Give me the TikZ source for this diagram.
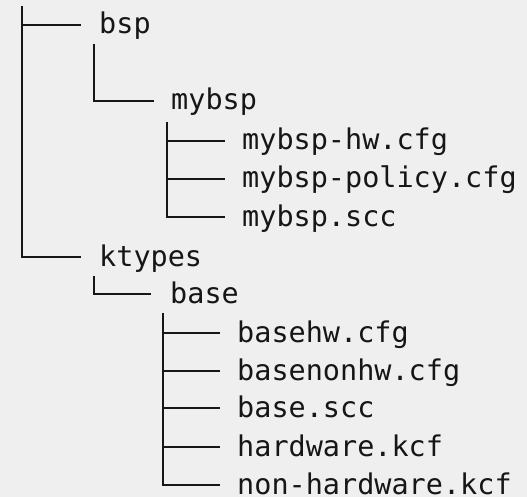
\documentclass[tikz,border=0pt]{standalone}
\usepackage{fontspec}
\newfontfamily\treefont{DejaVu Sans Mono}
\usepackage{tikz}
\usetikzlibrary{positioning}
\usetikzlibrary{calc}
\definecolor{bggray}{HTML}{EFEFEF}
\definecolor{ink}{HTML}{161616}
\tikzstyle{entry} = [anchor=base west, inner sep=0pt, text=ink, font=\treefont\fontsize{28.6}{30}\selectfont]
\tikzstyle{branch} = [draw=ink, line width=2.4bp]

\begin{document}
\begin{tikzpicture}[x=1bp, y=1bp]
    \useasboundingbox[fill=bggray] (0,0) rectangle (527,-497);

    % --- bsp ---

    % bsp entry
    \node[entry] at (99, -34) (bsp) {bsp};
    \coordinate (bsp_in) at ($(bsp.base west) + (-18, 9)$);

    % top of the root line, left of bsp
    \coordinate (root) at ($(bsp.base west) + (-77, 28)$);

    % mybsp below bsp
    \node[entry] at ($(bsp.base west) + (72, -76)$) (mybsp) {mybsp};
    \coordinate (mybsp_in) at ($(mybsp.base west) + (-17.5, 9)$);
    \coordinate (bsp_down) at ($(bsp.base west) + (-5, -10)$);

    % files of mybsp
    \node[entry] at ($(mybsp.base west) + (71, -40)$) (mybsp_hw) {mybsp-hw.cfg};
    \node[entry] at ($(mybsp_hw.base west) + (0, -38)$) (mybsp_policy) {mybsp-policy.cfg};
    \node[entry] at ($(mybsp_policy.base west) + (0, -38)$) (mybsp_scc) {mybsp.scc};
    \coordinate (mybsp_down) at ($(mybsp.base west) + (-4, -12)$);

    % --- ktypes ---

    % ktypes below bsp
    \node[entry] at ($(bsp.base west) + (0, -232)$) (ktypes) {ktypes};
    \coordinate (ktypes_in) at ($(ktypes.base west) + (-18, 9)$);

    % base below ktypes
    \node[entry] at ($(ktypes.base west) + (71, -37)$) (base) {base};
    \coordinate (base_in) at ($(base.base west) + (-19, 9)$);
    \coordinate (ktypes_down) at ($(ktypes.base west) + (-5, -10)$);

    % files of base
    \node[entry] at ($(base.base west) + (67, -39)$) (basehw) {basehw.cfg};
    \node[entry] at ($(basehw.base west) + (0, -38)$) (basenonhw) {basenonhw.cfg};
    \node[entry] at ($(basenonhw.base west) + (0, -37)$) (base_scc) {base.scc};
    \node[entry] at ($(base_scc.base west) + (0, -39)$) (hardware) {hardware.kcf};
    \node[entry] at ($(hardware.base west) + (0, -38)$) (non_hardware) {non-hardware.kcf};
    \coordinate (base_down) at ($(base.base west) + (-7, -10)$);

    % --- tree lines ---

    % root line down to ktypes, with a branch to bsp
    \draw[branch] (root) |- (ktypes_in);
    \draw[branch] (root |- bsp_in) -- (bsp_in);

    % bsp to mybsp
    \draw[branch] (bsp_down) |- (mybsp_in);

    % mybsp to its files
    \draw[branch] (mybsp_down) |- ($(mybsp_scc.base west) + (-17.5, 9)$);
    \draw[branch] (mybsp_down |- mybsp_hw.base) ++(0, 9) -- ($(mybsp_hw.base west) + (-17.5, 9)$);
    \draw[branch] (mybsp_down |- mybsp_policy.base) ++(0, 9) -- ($(mybsp_policy.base west) + (-17.5, 9)$);

    % ktypes to base
    \draw[branch] (ktypes_down) |- (base_in);

    % base to its files
    \draw[branch] (base_down) |- ($(non_hardware.base west) + (-17.5, 9)$);
    \draw[branch] (base_down |- basehw.base) ++(0, 9) -- ($(basehw.base west) + (-17.5, 9)$);
    \draw[branch] (base_down |- basenonhw.base) ++(0, 9) -- ($(basenonhw.base west) + (-17.5, 9)$);
    \draw[branch] (base_down |- base_scc.base) ++(0, 9) -- ($(base_scc.base west) + (-17.5, 9)$);
    \draw[branch] (base_down |- hardware.base) ++(0, 9) -- ($(hardware.base west) + (-17.5, 9)$);

\end{tikzpicture}
\end{document}
